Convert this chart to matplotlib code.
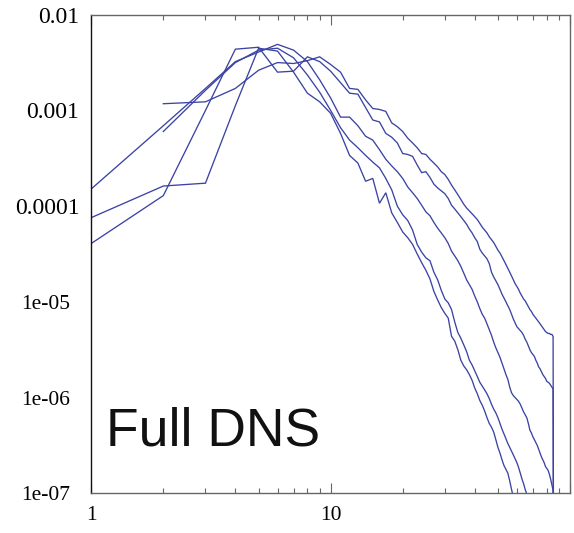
import numpy as np
import matplotlib
matplotlib.use("Agg")
import matplotlib.pyplot as plt
from matplotlib.ticker import FixedLocator, NullFormatter, FixedFormatter
from matplotlib.transforms import ScaledTranslation

# ---- data (log10 of spectrum values) ----
k_t1 = list(range(2, 87))
log_t1 = [-2.93, -2.91, -2.77, -2.58, -2.50, -2.51, -2.48, -2.44, -2.52,
          -2.60, -2.77, -2.78, -2.89, -2.98, -2.99, -3.01, -3.13, -3.17, -3.22,
          -3.29, -3.34, -3.39, -3.45, -3.46, -3.51, -3.55, -3.59, -3.64, -3.67,
          -3.72, -3.78, -3.83, -3.88, -3.93, -3.98, -4.02, -4.05, -4.08, -4.11,
          -4.14, -4.18, -4.22, -4.25, -4.28, -4.32, -4.35, -4.38, -4.42, -4.46,
          -4.49, -4.53, -4.57, -4.61, -4.65, -4.69, -4.73, -4.77, -4.81, -4.84,
          -4.87, -4.91, -4.94, -4.97, -4.99, -5.02, -5.05, -5.08, -5.10, -5.13,
          -5.15, -5.17, -5.19, -5.21, -5.23, -5.25, -5.27, -5.29, -5.31, -5.32,
          -5.33, -5.33, -5.34, -5.34, -5.36, -12.0]

k_t2 = list(range(1, 87))
log_t2 = [-4.39, -3.89, -3.00, -2.36, -2.34, -2.60, -2.59, -2.44, -2.49, -2.59,
          -2.71, -2.82, -2.83, -2.97, -3.10, -3.12, -3.24, -3.28, -3.34, -3.45,
          -3.46, -3.48, -3.57, -3.65, -3.64, -3.70, -3.77, -3.81, -3.84, -3.87,
          -3.92, -3.99, -4.03, -4.07, -4.11, -4.15, -4.19, -4.24, -4.28, -4.33,
          -4.37, -4.45, -4.49, -4.52, -4.55, -4.60, -4.69, -4.74, -4.78, -4.82,
          -4.87, -4.92, -4.96, -5.00, -5.04, -5.08, -5.13, -5.18, -5.22, -5.26,
          -5.28, -5.30, -5.32, -5.35, -5.39, -5.42, -5.46, -5.50, -5.53, -5.55,
          -5.57, -5.61, -5.64, -5.68, -5.70, -5.73, -5.76, -5.78, -5.80, -5.83,
          -5.84, -5.85, -5.87, -5.89, -5.91, -12.0]

k_t3 = list(range(1, 87))
log_t3 = [-3.82, -3.16, -2.77, -2.49, -2.39, -2.31, -2.37, -2.49, -2.68, -2.87,
          -3.07, -3.07, -3.16, -3.27, -3.31, -3.41, -3.51, -3.58, -3.64, -3.71,
          -3.80, -3.86, -3.92, -3.99, -4.06, -4.10, -4.17, -4.23, -4.28, -4.33,
          -4.39, -4.47, -4.52, -4.57, -4.63, -4.70, -4.77, -4.82, -4.87, -4.94,
          -5.00, -5.07, -5.13, -5.17, -5.23, -5.29, -5.35, -5.42, -5.48, -5.53,
          -5.58, -5.64, -5.70, -5.76, -5.81, -5.89, -5.95, -5.98, -6.00, -6.02,
          -6.04, -6.07, -6.11, -6.15, -6.18, -6.21, -6.27, -6.34, -6.37, -6.41,
          -6.44, -6.47, -6.50, -6.54, -6.58, -6.62, -6.65, -6.68, -6.72, -6.74,
          -6.76, -6.80, -6.85, -6.91, -6.97, -12.0]

k_t4 = list(range(2, 69))
log_t4 = [-3.22, -2.79, -2.50, -2.37, -2.35, -2.45, -2.63, -2.81, -3.00, -3.18,
          -3.31, -3.39, -3.47, -3.54, -3.60, -3.71, -3.83, -4.00, -4.09, -4.15,
          -4.25, -4.40, -4.48, -4.54, -4.57, -4.69, -4.77, -4.88, -4.97, -5.01,
          -5.08, -5.21, -5.32, -5.38, -5.45, -5.52, -5.61, -5.66, -5.72, -5.78,
          -5.84, -5.88, -5.92, -5.96, -6.01, -6.07, -6.12, -6.16, -6.21, -6.27,
          -6.33, -6.38, -6.43, -6.48, -6.52, -6.56, -6.60, -6.64, -6.68, -6.73,
          -6.79, -6.85, -6.90, -6.96, -7.01, -7.06, -7.12]

k_t5 = list(range(1, 61))
log_t5 = [-4.12, -3.79, -3.76, -2.95, -2.35, -2.38, -2.60, -2.82, -2.91, -3.03,
          -3.24, -3.47, -3.55, -3.74, -3.71, -3.97, -3.86, -4.07, -4.17, -4.27,
          -4.33, -4.40, -4.50, -4.59, -4.67, -4.76, -4.89, -4.98, -5.06, -5.12,
          -5.17, -5.36, -5.41, -5.50, -5.61, -5.67, -5.71, -5.76, -5.82, -5.90,
          -5.96, -6.03, -6.08, -6.14, -6.21, -6.27, -6.31, -6.36, -6.44, -6.52,
          -6.58, -6.65, -6.71, -6.75, -6.79, -6.87, -6.96, -7.04, -7.10, -7.15]

series = [(k_t1, log_t1), (k_t2, log_t2), (k_t3, log_t3),
          (k_t4, log_t4), (k_t5, log_t5)]

y_ticks = [1e-2, 1e-3, 1e-4, 1e-5, 1e-6, 1e-7]
y_labels = ["0.01", "0.001", "0.0001", "1e-05", "1e-06", "1e-07"]
x_ticks = [1, 10, 100]
x_labels = ["1", "10", ""]
label_text = "Full DNS"

# ---- figure ----
fig = plt.figure(figsize=(5.74, 5.33), dpi=100)
ax = fig.add_axes([0.159, 0.0745, 0.834, 0.8979])

line_color = "#3b43a3"
for kk, lg in series:
    ax.plot(kk, 10.0 ** np.array(lg), color=line_color, lw=0.95,
            solid_joinstyle="miter")

ax.set_xscale("log")
ax.set_yscale("log")
ax.set_xlim(1, 100)
ax.set_ylim(1e-7, 1e-2)

ax.xaxis.set_major_locator(FixedLocator(x_ticks))
ax.xaxis.set_major_formatter(FixedFormatter(x_labels))
minor = [m * d for d in (1, 10) for m in range(2, 10)]
ax.xaxis.set_minor_locator(FixedLocator(minor))
ax.xaxis.set_minor_formatter(NullFormatter())
ax.yaxis.set_major_locator(FixedLocator(y_ticks))
ax.yaxis.set_major_formatter(NullFormatter())
ax.yaxis.set_minor_locator(FixedLocator([]))

serif = "Liberation Serif"
ax.tick_params(axis="x", which="major", direction="in", length=7.5, width=0.8,
               color="#666666", top=True, bottom=True, pad=9.5,
               labelsize=15.5)
ax.tick_params(axis="x", which="minor", direction="in", length=3.8, width=0.8,
               color="#666666", top=True, bottom=True)
ax.tick_params(axis="y", which="both", length=0)
for lab in ax.get_xticklabels():
    lab.set_fontfamily(serif)

# y tick labels: right-justified; the decimal ones are set wider, as in the
# original rendering
ytrans = ax.get_yaxis_transform()
for val, txt in zip(y_ticks, y_labels):
    is_dec = "." in txt
    shift_px = -12 if is_dec else -21
    ax.text(0, val, txt, transform=ytrans + ScaledTranslation(
        shift_px / 100, 0, fig.dpi_scale_trans), ha="right",
        va="center_baseline", fontsize=17 if is_dec else 15.5,
        family=serif, color="black")

for side in ("top", "bottom", "right"):
    ax.spines[side].set_color("#666666")
    ax.spines[side].set_linewidth(1.0)
ax.spines["left"].set_color("#111111")
ax.spines["left"].set_linewidth(1.0)

ax.text(0.030, 0.100, label_text, transform=ax.transAxes, ha="left",
        va="baseline", fontsize=38.5, family="Liberation Sans", color="#111111")

fig.savefig("out.png", dpi=100)
